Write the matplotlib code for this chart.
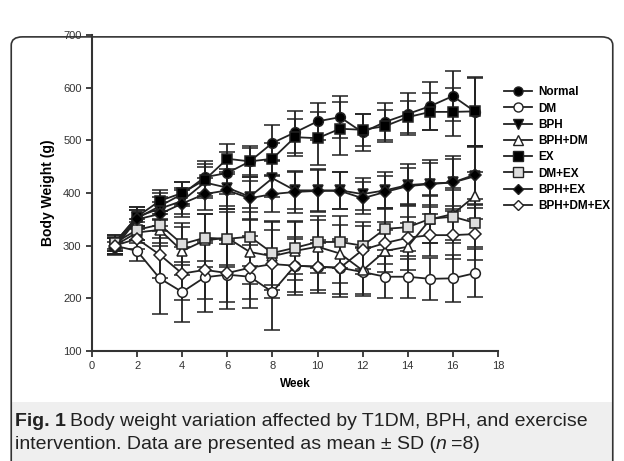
import matplotlib.pyplot as plt
from matplotlib.patches import FancyBboxPatch, Rectangle
from matplotlib.lines import Line2D

plt.rcParams['font.family'] = ['Liberation Sans', 'DejaVu Sans']

# weeks 1..17
weeks = list(range(1, 18))

normal = [300, 352, 375, 398, 430, 438, 460, 495, 515, 536, 544, 515, 535, 550, 565, 584, 554]
normal_sd = [15, 15, 25, 22, 30, 40, 30, 35, 40, 35, 40, 35, 35, 40, 45, 48, 65]
dm = [300, 290, 238, 212, 240, 245, 241, 212, 262, 260, 258, 250, 241, 241, 237, 238, 248]
dm_sd = [15, 20, 68, 57, 65, 65, 60, 72, 50, 45, 50, 45, 40, 40, 40, 45, 45]
bph = [305, 355, 370, 385, 420, 410, 393, 428, 405, 405, 405, 398, 405, 415, 418, 420, 432]
bph_sd = [15, 18, 22, 25, 30, 35, 30, 35, 35, 40, 35, 30, 35, 40, 45, 50, 55]
bph_dm = [300, 325, 330, 290, 310, 315, 288, 280, 290, 298, 285, 253, 290, 298, 350, 360, 395]
bph_dm_sd = [15, 20, 30, 45, 50, 55, 60, 65, 55, 50, 55, 45, 40, 45, 45, 50, 45]
ex = [305, 355, 385, 400, 425, 465, 460, 465, 506, 504, 522, 520, 527, 544, 554, 554, 555]
ex_sd = [12, 18, 20, 20, 30, 28, 25, 30, 35, 50, 50, 30, 30, 30, 35, 45, 65]
dm_ex = [305, 330, 340, 303, 315, 313, 317, 286, 296, 307, 307, 300, 332, 335, 351, 355, 343]
dm_ex_sd = [15, 20, 25, 40, 45, 50, 55, 60, 50, 50, 50, 45, 40, 45, 45, 50, 45]
bph_ex = [295, 350, 360, 380, 398, 405, 390, 398, 402, 404, 404, 390, 402, 413, 417, 420, 435]
bph_ex_sd = [12, 18, 22, 25, 30, 35, 40, 35, 40, 40, 35, 30, 30, 35, 40, 45, 55]
bph_dm_ex = [300, 313, 283, 247, 254, 248, 258, 265, 262, 260, 258, 292, 305, 315, 320, 320, 322]
bph_dm_ex_sd = [15, 20, 45, 50, 55, 55, 60, 65, 55, 50, 55, 45, 40, 40, 40, 45, 50]

series = [
    ('Normal', normal, normal_sd, 'o', 'black'),
    ('DM', dm, dm_sd, 'o', 'white'),
    ('BPH', bph, bph_sd, 'v', 'black'),
    ('BPH+DM', bph_dm, bph_dm_sd, '^', 'white'),
    ('EX', ex, ex_sd, 's', 'black'),
    ('DM+EX', dm_ex, dm_ex_sd, 's', '#dddddd'),
    ('BPH+EX', bph_ex, bph_ex_sd, 'D', 'black'),
    ('BPH+DM+EX', bph_dm_ex, bph_dm_ex_sd, 'D', 'white'),
]

fig = plt.figure(figsize=(6.24, 4.61), dpi=100)

# outer rounded frame and caption background
fig.patches.append(Rectangle((0.019, 0.0), 0.962, 0.128, transform=fig.transFigure,
                             facecolor='#efefef', edgecolor='none', zorder=0))
fig.patches.append(FancyBboxPatch((0.018, -0.05), 0.964, 0.97,
                                  boxstyle='round,pad=0,rounding_size=0.018',
                                  transform=fig.transFigure, facecolor='none',
                                  edgecolor='#333333', linewidth=1.2, zorder=1))

ax = fig.add_axes([0.1474, 0.2386, 0.6506, 0.6855])
handles = []
for name, vals, sd, mk, fc in series:
    ms = 7 if mk != 'D' else 6
    ax.errorbar(weeks, vals, yerr=sd, color='#222222', lw=1.3, capsize=6, capthick=1.3,
                elinewidth=1.3, marker=mk, markersize=ms, markerfacecolor=fc,
                markeredgecolor='#222222', markeredgewidth=1.1)
    handles.append(Line2D([0], [0], color='#222222', lw=1.3, marker=mk, markersize=ms - 0.5,
                          markerfacecolor=fc, markeredgecolor='#222222', label=name))

ax.set_xlim(0, 18)
ax.set_ylim(100, 700)
ax.set_xticks(range(0, 19, 2))
ax.set_yticks(range(100, 701, 100))
for s in ['top', 'right']:
    ax.spines[s].set_visible(False)
for s in ['left', 'bottom']:
    ax.spines[s].set_linewidth(1.5)
    ax.spines[s].set_color('#333333')
ax.tick_params(direction='out', length=4, width=1.3, labelsize=8, colors='#333333')
ax.set_xlabel('Week', fontsize=8.5, fontweight='bold', labelpad=5)
ax.set_ylabel('Body Weight (g)', fontsize=10, fontweight='bold', labelpad=6)

leg = fig.legend(handles=handles, loc='upper left', bbox_to_anchor=(0.80, 0.823),
                 frameon=False, handlelength=2.4, labelspacing=0.36,
                 prop={'size': 8.5, 'weight': 'bold'}, borderaxespad=0, handletextpad=0.5)

# caption: bold "Fig. 1" followed by normal text
cap_size = 14
fig.canvas.draw()
r = fig.canvas.get_renderer()
t1 = fig.text(0.024, 0.077, 'Fig. 1', fontsize=cap_size, fontweight='bold',
              color='#222222', va='baseline')
bb = t1.get_window_extent(r)
fig.text(bb.x1 / fig.bbox.width + 0.006, 0.077,
         'Body weight variation affected by T1DM, BPH, and exercise',
         fontsize=cap_size, color='#222222', va='baseline')
t3 = fig.text(0.024, 0.026, 'intervention. Data are presented as mean \u00b1 SD (',
              fontsize=cap_size, color='#222222', va='baseline')
bb = t3.get_window_extent(r)
t4 = fig.text(bb.x1 / fig.bbox.width, 0.026, 'n', fontsize=cap_size,
              style='italic', color='#222222', va='baseline')
bb = t4.get_window_extent(r)
fig.text(bb.x1 / fig.bbox.width + 0.006, 0.026, '=8)', fontsize=cap_size,
         color='#222222', va='baseline')

fig.savefig('out.png', dpi=100)
